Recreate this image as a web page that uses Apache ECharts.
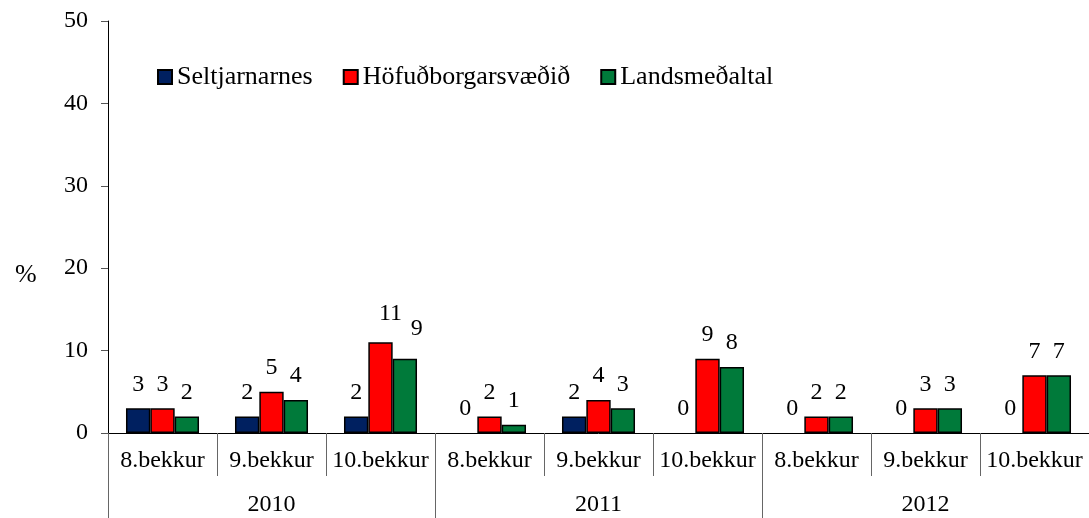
<!DOCTYPE html>
<html>
<head>
<meta charset="utf-8">
<script src="https://cdn.jsdelivr.net/npm/echarts@6/dist/echarts.min.js"></script>
<style>
  html, body { margin: 0; padding: 0; background: #fff; }
  #main { width: 1089px; height: 518px; }
</style>
</head>
<body>
<div id="main"></div>
<script>
// flokkar og ár
var grades = ['8.bekkur', '9.bekkur', '10.bekkur', '8.bekkur', '9.bekkur', '10.bekkur', '8.bekkur', '9.bekkur', '10.bekkur']
var years = ['2010', '2011', '2012']
var yTicks = [0, 10, 20, 30, 40, 50]

// gildi (%)
var seltjarnarnes = [3, 2, 2, 0, 2, 0, 0, 0, 0]
var hofudborg = [3, 5, 11, 2, 4, 9, 2, 3, 7]
var landsmedaltal = [2, 4, 9, 1, 3, 8, 2, 3, 7]

var font = 'Liberation Serif'

// Excel hliðraði merkjunum fyrir 2010 10.bekkur aðeins til
var nudge = {
    'Höfuðborgarsvæðið': { 2: [10, -5] },
    'Landsmeðaltal': { 2: [12, -6] }
}

var myChart = echarts.init(document.getElementById('main'))

function makeSeries(name, values, color) {
    var n = nudge[name] || {}
    return {
        name: name,
        type: 'bar',
        xAxisIndex: 0,
        barGap: 0,
        barCategoryGap: '33%',
        itemStyle: { color: color, borderColor: '#000', borderWidth: 1.5 },
        label: {
            show: true,
            position: 'top',
            distance: 12,
            fontFamily: font,
            fontSize: 24,
            color: '#000'
        },
        data: values.map(function (v, i) {
            var item = { value: v }
            if (n[i]) item.label = { offset: n[i] }
            // núllsúlur eiga ekki að sjást
            if (v === 0) item.itemStyle = { borderWidth: 0 }
            return item
        })
    }
}

var option = {
    animation: false,
    backgroundColor: '#fff',
    textStyle: { fontFamily: font },
    title: {
        text: '%',
        left: 10,
        top: 257,
        textStyle: { fontFamily: font, fontSize: 26, fontWeight: 'normal', color: '#000' }
    },
    legend: {
        left: 152,
        top: 59,
        icon: 'rect',
        itemWidth: 14,
        itemHeight: 14,
        itemGap: 30,
        textStyle: { fontFamily: font, fontSize: 26, color: '#000' },
        data: ['Seltjarnarnes', 'Höfuðborgarsvæðið', 'Landsmeðaltal']
    },
    grid: { left: 108, top: 21, width: 982, height: 412, containLabel: false },
    xAxis: [
        {
            type: 'category',
            data: grades,
            axisLine: { lineStyle: { color: '#000', width: 1 } },
            axisTick: { show: true, interval: 0, length: 43, lineStyle: { color: '#666' } },
            axisLabel: { interval: 0, margin: 16, fontFamily: font, fontSize: 24, color: '#000' }
        },
        {
            type: 'category',
            data: years,
            position: 'bottom',
            axisLine: { show: false },
            axisTick: { show: true, interval: 0, length: 90, lineStyle: { color: '#666' } },
            axisLabel: { interval: 0, margin: 60, fontFamily: font, fontSize: 24, color: '#000' }
        }
    ],
    yAxis: {
        type: 'value',
        min: yTicks[0],
        max: yTicks[yTicks.length - 1],
        interval: 10,
        axisLine: { show: true, lineStyle: { color: '#000' } },
        axisTick: { show: true, length: 7, lineStyle: { color: '#555' } },
        splitLine: { show: false },
        axisLabel: { margin: 20, fontFamily: font, fontSize: 24, color: '#000' }
    },
    series: [
        makeSeries('Seltjarnarnes', seltjarnarnes, '#002060'),
        makeSeries('Höfuðborgarsvæðið', hofudborg, '#ff0000'),
        makeSeries('Landsmeðaltal', landsmedaltal, '#007a3a')
    ]
}
myChart.setOption(option)
</script>
</body>
</html>
